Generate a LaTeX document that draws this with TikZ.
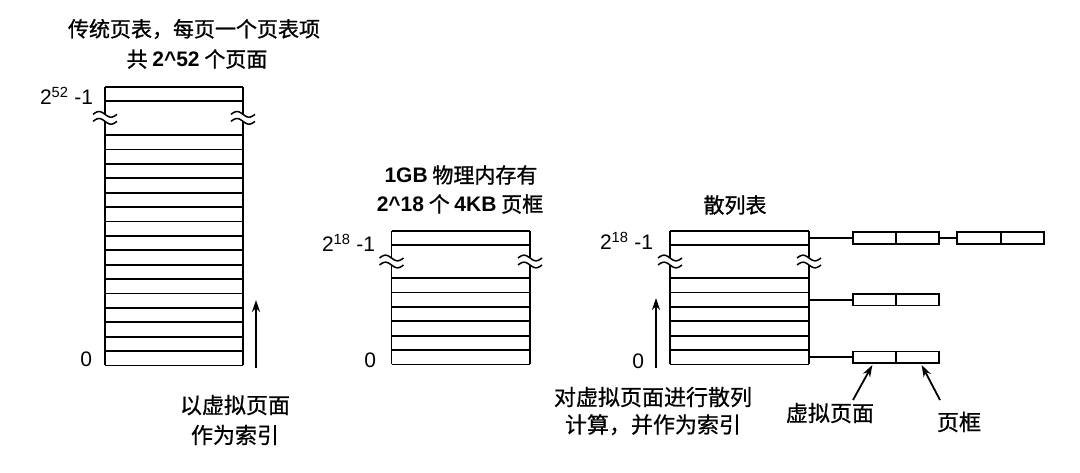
\documentclass[tikz,border=0pt]{standalone}
\usepackage{fontspec}
\setmainfont{Liberation Sans}
\newfontfamily\cjk{Noto Sans CJK SC}[FakeBold=1]
\newfontfamily\cjkl{Noto Sans CJK SC}[FakeBold=0.7]
\usetikzlibrary{arrows.meta}
\newcommand\lb[1]{{\rmfamily\bfseries #1}}
% #1 left x, #2 right x, #3 top y, #4 first line y, #5 start of lower rows, #6 number of rows
\newcommand\pgtbl[6]{%
  \pgfmathsetmacro\mymid{(#4+#5)/2}%
  \pgfmathsetmacro\mybot{#5+14.4*#6}%
  \draw (#1,#3) -- (#2,#3);
  \draw (#1,#4) -- (#2,#4);
  \draw (#1,#3) -- (#1,\mymid-3.5) (#1,\mymid+3.5) -- (#1,\mybot);
  \draw (#2,#3) -- (#2,\mymid-3.5) (#2,\mymid+3.5) -- (#2,\mybot);
  \foreach \k in {0,...,#6} {\draw (#1,#5+14.4*\k) -- (#2,#5+14.4*\k);}
  \foreach \xx in {#1,#2} {\foreach \yy in {-3.5,3.5} {
    \draw[line width=1.5pt] plot[domain=-12:12,samples=25,smooth] ({\xx+\x},{\mymid+\yy+2.8*sin(\x*15)});}}
}
\begin{document}
\begin{tikzpicture}[x=1pt,y=-1pt, line width=1.8pt,
  num/.style={font=\fontsize{21}{25}\selectfont, inner sep=0pt},
  ttl/.style={font=\fontsize{21}{30}\selectfont\cjk, inner sep=0pt},
  lab/.style={font=\cjkl, align=center, inner sep=0pt},
  cell/.style={draw, minimum width=43.3pt, minimum height=11.6pt, inner sep=0pt, outer sep=0pt},
  arr/.style={-{Stealth[length=12pt,width=8pt]}, line width=1.8pt},
  ]
\useasboundingbox (0,0) rectangle (1080,472);

% ---------- table 1 ----------
\pgtbl{105}{243}{87}{100.7}{135}{16}
\node[ttl] (t1a) at (194,29) {传统页表，每页一个页表项};
\node[ttl] (t1b) at (197,59) {共 \lb{2\textasciicircum 52} 个页面};
\node[num, anchor=east] (n1top) at (94,96) {2\textsuperscript{52} -1};
\node[num, anchor=east] (n1bot) at (93,359) {0};
\coordinate (a1s) at (256,368);
\coordinate (a1e) at (256,300);
\draw[arr] (a1s) -- (a1e);
\node[lab, font=\fontsize{22}{30}\selectfont\cjkl] (l1) at (235,420) {以虚拟页面\\作为索引};

% ---------- table 2 ----------
\pgtbl{391.5}{530}{231}{245}{278}{6}
\node[ttl] (t2a) at (461,175) {\lb{1GB} 物理内存有};
\node[ttl] (t2b) at (460,204) {\lb{2\textasciicircum 18} 个 \lb{4KB} 页框};
\node[num, anchor=east] (n2top) at (376,243) {2\textsuperscript{18} -1};
\node[num, anchor=east] (n2bot) at (377,360) {0};

% ---------- table 3 ----------
\pgtbl{670}{809}{231}{245}{278}{6}
\node[ttl] (t3) at (735,205) {散列表};
\node[num, anchor=east] (n3top) at (654,241) {2\textsuperscript{18} -1};
\node[num, anchor=east] (n3bot) at (645,361) {0};
\coordinate (a3s) at (656,368);
\coordinate (a3e) at (656,298);
\draw[arr] (a3s) -- (a3e);
\node[lab, font=\fontsize{22}{27.5}\selectfont\cjkl] (l3) at (653,411) {对虚拟页面进行散列\\计算，并作为索引};

% ---------- chains ----------
\coordinate (h1) at (809,238);
\coordinate (h2) at (809,299.6);
\coordinate (h3) at (809,357.2);
\node[cell] (v1) at (874.35,238) {};
\node[cell, anchor=west] (f1) at (v1.east) {};
\node[cell] (v1b) at (979,238) {};
\node[cell, anchor=west] (f1b) at (v1b.east) {};
\node[cell] (v2) at (874.35,299.6) {};
\node[cell, anchor=west] (f2) at (v2.east) {};
\node[cell] (v3) at (874.35,357.2) {};
\node[cell, anchor=west] (f3) at (v3.east) {};
\draw (h1) -- (v1.west);
\draw (f1.east) -- (v1b.west);
\draw (h2) -- (v2.west);
\draw (h3) -- (v3.west);

\node[lab, font=\fontsize{22}{27}\selectfont\cjkl] (lvp) at (830,413) {虚拟页面};
\node[lab, font=\fontsize{22}{27}\selectfont\cjkl] (lpf) at (959,422) {页框};
\coordinate (avp) at (853,400);
\coordinate (apf) at (940,400);
\draw[arr] (avp) -- ([xshift=-2pt,yshift=-2pt]v3.south);
\draw[arr] (apf) -- ([xshift=4pt,yshift=-2pt]f3.south);
\end{tikzpicture}
\end{document}
